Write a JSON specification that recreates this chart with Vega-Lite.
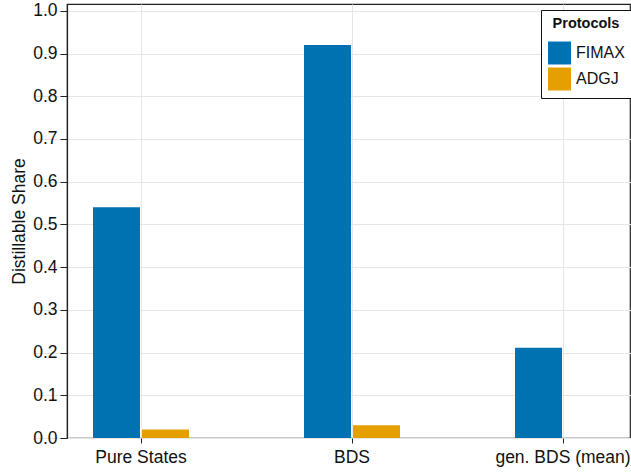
{
  "$schema": "https://vega.github.io/schema/vega-lite/v6.json",
  "width": 563,
  "height": 434,
  "autosize": {"type": "none"},
  "padding": {"left": 67, "top": 4, "right": 1, "bottom": 37},
  "background": "white",
  "config": {
    "font": "Liberation Sans",
    "view": {"stroke": "#222222", "strokeWidth": 1.2},
    "axis": {"labelFont": "Liberation Sans", "titleFont": "Liberation Sans", "labelColor": "#111", "titleColor": "#111", "gridColor": "#e6e6e6", "gridWidth": 1, "tickColor": "#222", "domainColor": "#222"}
  },
  "data": {
    "values": [
      {"category": "Pure States", "protocol": "FIMAX", "share": 0.54},
      {"category": "Pure States", "protocol": "ADGJ", "share": 0.02},
      {"category": "BDS", "protocol": "FIMAX", "share": 0.92},
      {"category": "BDS", "protocol": "ADGJ", "share": 0.03},
      {"category": "gen. BDS (mean)", "protocol": "FIMAX", "share": 0.211},
      {"category": "gen. BDS (mean)", "protocol": "ADGJ", "share": 0.0}
    ]
  },
  "mark": {"type": "bar"},
  "encoding": {
    "x": {
      "field": "category",
      "type": "nominal",
      "sort": ["Pure States", "BDS", "gen. BDS (mean)"],
      "scale": {"range": [-31.5, 601.5], "paddingInner": 0, "paddingOuter": 0},
      "axis": {"title": null, "labelAngle": 0, "labelFontSize": 17.5, "domain": false, "tickSize": 5, "labelPadding": 5, "bandPosition": 0.5, "grid": true, "tickBand": "center"}
    },
    "xOffset": {
      "field": "protocol",
      "type": "nominal",
      "sort": ["FIMAX", "ADGJ"],
      "scale": {"range": [57.5, 153.5], "paddingInner": 0.0408, "paddingOuter": 0}
    },
    "y": {
      "field": "share",
      "type": "quantitative",
      "scale": {"domain": [0, 1.016], "nice": false, "zero": true},
      "axis": {"title": "Distillable Share", "titleFontSize": 17.5, "titleFontWeight": "normal", "titlePadding": 4, "labelFontSize": 17.5, "values": [0, 0.1, 0.2, 0.3, 0.4, 0.5, 0.6, 0.7, 0.8, 0.9, 1.0], "format": ".1f", "tickSize": 7, "labelPadding": 3, "domain": true, "domainWidth": 1.2}
    },
    "color": {
      "field": "protocol",
      "type": "nominal",
      "sort": ["FIMAX", "ADGJ"],
      "scale": {"domain": ["FIMAX", "ADGJ"], "range": ["#0072B2", "#E69F00"]},
      "legend": {
        "title": "Protocols",
        "orient": "none",
        "legendX": 474,
        "legendY": 6,
        "titleFontSize": 14.5,
        "titleFontWeight": "bold",
        "titleColor": "#111",
        "titleAnchor": "middle",
        "titlePadding": 10,
        "labelFontSize": 16,
        "labelColor": "#111",
        "symbolType": "square",
        "symbolSize": 529,
        "symbolStrokeWidth": 0,
        "rowPadding": 3,
        "labelOffset": 5,
        "padding": 7,
        "strokeColor": "#111",
        "fillColor": "white"
      }
    }
  }
}
